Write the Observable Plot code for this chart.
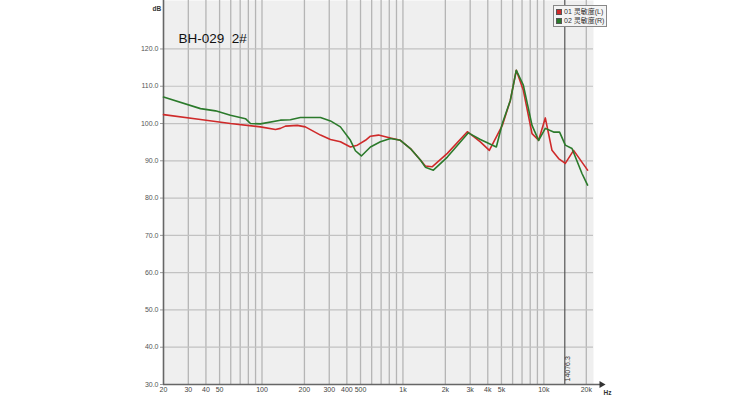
<!DOCTYPE html>
<html>
<head>
<meta charset="utf-8">
<script src="https://cdn.jsdelivr.net/npm/d3@7"></script>
<script src="https://cdn.jsdelivr.net/npm/@observablehq/plot@0.6"></script>
<style>
  html, body { margin: 0; padding: 0; background: #fff; }
  #wrap { position: relative; width: 750px; height: 400px; font-family: "Liberation Sans", Arial, sans-serif; }
  #legend { position: absolute; left: 553px; top: 5px; border: 1px solid #888; background: #f4f4f4; padding: 1px 2px; font-size: 7px; line-height: 9px; font-family: "Liberation Sans", "Noto Sans CJK SC", sans-serif; color: #333; }
  #legend .row { display: flex; align-items: center; white-space: nowrap; }
  #legend .sw { width: 6px; height: 6px; margin-right: 2px; border: 1px solid #555; box-sizing: border-box; }
</style>
</head>
<body>
<div id="wrap"></div>
<script>
// ---- data ----
const title = "BH-029  2#";
const seriesNames = ["01 灵敏度(L)", "02 灵敏度(R)"];
const seriesColors = ["#cf2a2a", "#2b7a2b"];

const redFreq = [20, 36.6, 59.7, 97.5, 124.6, 135, 146.7, 178, 203, 260, 306, 360, 424, 475, 542, 588, 670, 815, 959, 1130, 1330, 1442, 1610, 2066, 2864, 3542, 4102, 5072, 5781, 6376, 7149, 8242, 9180, 10238, 11420, 12720, 14192, 16256, 20426];
const redDb   = [102.4, 101.1, 100.0, 99.1, 98.4, 98.7, 99.3, 99.5, 99.1, 96.9, 95.7, 95.1, 93.7, 94.2, 95.5, 96.6, 96.9, 96.1, 95.5, 93.3, 90.2, 88.6, 88.4, 92.0, 97.8, 95.1, 92.8, 99.5, 106.2, 114.3, 108.9, 97.3, 95.5, 101.5, 92.8, 90.6, 89.3, 92.8, 87.5];

const greenFreq = [20, 36.6, 46.8, 59.7, 76.3, 82.8, 97.5, 135, 159, 187, 260, 306, 360, 424, 460, 507, 588, 692, 815, 959, 1130, 1330, 1442, 1644, 2066, 2912, 3542, 4600, 5072, 5781, 6376, 7149, 8242, 9180, 10238, 11720, 12932, 14192, 15834, 18640, 20426];
const greenDb   = [107.1, 104.0, 103.4, 102.2, 101.3, 100.0, 99.9, 100.9, 101.0, 101.6, 101.6, 100.7, 99.1, 95.5, 92.7, 91.3, 93.7, 95.1, 96.0, 95.5, 93.3, 90.2, 88.3, 87.5, 91.0, 97.5, 95.7, 93.7, 100.0, 106.2, 114.3, 110.3, 99.5, 95.5, 98.7, 97.7, 97.7, 94.2, 93.3, 86.6, 83.5];

const freqTicks = [20, 30, 40, 50, 100, 200, 300, 400, 500, 1000, 2000, 3000, 4000, 5000, 10000, 20000];
const freqTickLabels = ["20", "30", "40", "50", "100", "200", "300", "400", "500", "1k", "2k", "3k", "4k", "5k", "10k", "20k"];
const gridFreqs = [20, 30, 40, 50, 60, 70, 80, 90, 100, 200, 300, 400, 500, 600, 700, 800, 900, 1000, 2000, 3000, 4000, 5000, 6000, 7000, 8000, 9000, 10000, 20000];
const dbTicks = [30, 40, 50, 60, 70, 80, 90, 100, 110, 120];
const cursorFreq = 14076.3;
const cursorLabel = "14076.3";

// ---- build ----
const redRows = redFreq.map((f, i) => ({f, db: redDb[i]}));
const greenRows = greenFreq.map((f, i) => ({f, db: greenDb[i]}));
const xTickRows = freqTicks.map((t, i) => ({t, label: freqTickLabels[i]}));
const font = "Liberation Sans, Arial, sans-serif";

const chart = Plot.plot({
  width: 750,
  height: 400,
  marginLeft: 163,
  marginRight: 157,
  marginTop: 0,
  marginBottom: 16,
  style: {fontFamily: font, background: "#fff", overflow: "visible"},
  x: {type: "log", domain: [20, 22500], label: null, axis: null},
  y: {domain: [30, 133], label: null},
  marks: [
    Plot.frame({fill: "#efefef", stroke: "none"}),
    Plot.ruleX(gridFreqs.filter(d => d !== 20), {stroke: "#b5b5b5", strokeWidth: 1.3}),
    Plot.ruleY(dbTicks.filter(d => d !== 30), {stroke: "#c2c2c2", strokeWidth: 1.2}),
    Plot.ruleX([cursorFreq], {stroke: "#555", strokeWidth: 1.2}),
    Plot.text([cursorFreq], {x: d => d, y: () => 30, text: () => cursorLabel, rotate: -90, textAnchor: "start", dx: 3, dy: -3, fontSize: 7, fill: "#333"}),
    Plot.text(xTickRows, {x: "t", frameAnchor: "bottom", text: "label", dy: 7, fontSize: 7, fill: "#444"}),
    Plot.axisY({ticks: dbTicks, tickFormat: d => d.toFixed(1), tickSize: 3, tickPadding: 2, fontSize: 7, fill: "#555", stroke: "#999", label: null}),
    Plot.ruleX([20], {stroke: "#666", strokeWidth: 1.6}),
    Plot.ruleY([30], {stroke: "#666", strokeWidth: 1.6, insetRight: -9}),
    Plot.dot([20000], {x: () => 22500, y: () => 30, symbol: "triangle", rotate: 90, r: 2.6, fill: "#333", stroke: "none", dx: 8}),
    Plot.text(["Hz"], {x: () => 22500, y: () => 30, text: d => d, dx: 10, dy: 8, fontSize: 6.5, fontWeight: "bold", fill: "#333", textAnchor: "start"}),
    Plot.text(["dB"], {frameAnchor: "top-left", text: d => d, dx: -11, dy: 6, fontSize: 6.5, fontWeight: "bold", fill: "#333"}),
    Plot.text([title], {frameAnchor: "top-left", text: d => d, dx: 15, dy: 33, fontSize: 13.5, fill: "#111", textAnchor: "start"}),
    Plot.line(redRows, {x: "f", y: "db", stroke: seriesColors[0], strokeWidth: 1.6}),
    Plot.line(greenRows, {x: "f", y: "db", stroke: seriesColors[1], strokeWidth: 1.6})
  ]
});

const wrap = document.getElementById("wrap");
wrap.appendChild(chart);
const legend = document.createElement("div");
legend.id = "legend";
seriesNames.forEach((name, i) => {
  const row = document.createElement("div");
  row.className = "row";
  const sw = document.createElement("span");
  sw.className = "sw";
  sw.style.background = seriesColors[i];
  const t = document.createElement("span");
  t.textContent = name;
  row.appendChild(sw);
  row.appendChild(t);
  legend.appendChild(row);
});
wrap.appendChild(legend);
</script>
</body>
</html>
